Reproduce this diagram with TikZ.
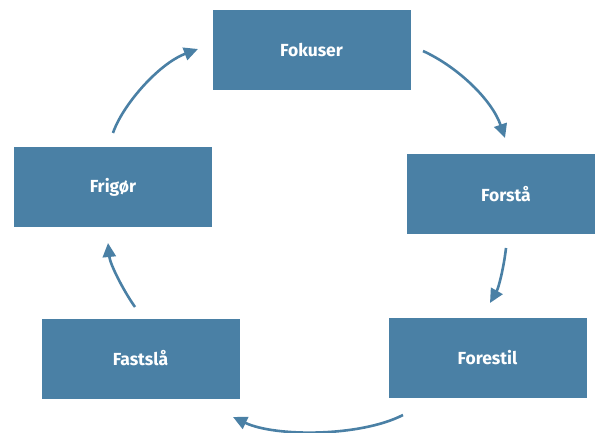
\documentclass[tikz,border=0pt]{standalone}
\usepackage{fontspec}
\setmainfont{Fira Sans}
\usetikzlibrary{arrows.meta}
\definecolor{stepblue}{RGB}{74,128,165}
\tikzset{
  stepbox/.style={rectangle, fill=stepblue, minimum width=198pt, minimum height=80pt,
    inner sep=0pt, text=white, font=\fontsize{17.5}{20}\selectfont\bfseries},
  flow/.style={draw=stepblue, line width=2.6pt,
    -{Triangle[length=14pt,width=13pt]}},
}
\begin{document}
\begin{tikzpicture}[x=1pt,y=-1pt]
\useasboundingbox (0,0) rectangle (595,433);
\fill[white] (0,0) rectangle (595,433);
% the five steps of the cycle
\node[stepbox] (fokuser)  at (311.5,50.5)  {Fokuser};
\node[stepbox] (forsta)   at (506,194)     {Forstå};
\node[stepbox] (forestil) at (487.5,358)   {Forestil};
\node[stepbox] (fastsla)  at (140.5,358.5) {Fastslå};
\node[stepbox] (frigor)   at (113,187)     {Frigør};
% arrow ends, kept clear of the boxes
\coordinate (a1) at (423,51);  \coordinate (b1) at (505,138);
\coordinate (a2) at (506,248); \coordinate (b2) at (490,303);
\coordinate (a3) at (403,415); \coordinate (b3) at (233,417);
\coordinate (a4) at (135,307); \coordinate (b4) at (108,243);
\coordinate (a5) at (113,133); \coordinate (b5) at (198,49);
% curved arrows running clockwise
\draw[flow] (a1) .. controls (458,67) and (492,100) .. (b1);
\draw[flow] (a2) .. controls (504,266) and (499,287) .. (b2);
\draw[flow] (a3) .. controls (360,437) and (275,437) .. (b3);
\draw[flow] (a4) .. controls (123,290) and (110,264) .. (b4);
\draw[flow] (a5) .. controls (122,106) and (158,64) .. (b5);
\end{tikzpicture}
\end{document}
